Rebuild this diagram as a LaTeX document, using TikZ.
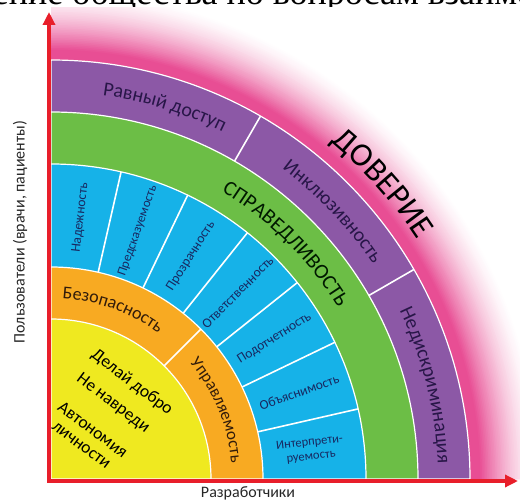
\documentclass[tikz,border=0pt]{standalone}
\usepackage{fontspec}
\setmainfont{Carlito}
\newfontfamily\pagefont{Liberation Serif}
\usetikzlibrary{arrows.meta,decorations.text}
\definecolor{ringyellow}{RGB}{239,233,32}
\definecolor{ringorange}{RGB}{248,170,34}
\definecolor{ringblue}{RGB}{22,178,232}
\definecolor{ringgreen}{RGB}{108,190,70}
\definecolor{ringpurple}{RGB}{140,88,166}
\definecolor{glowpink}{RGB}{232,78,148}
\definecolor{axisred}{RGB}{232,30,42}
\definecolor{bluetext}{RGB}{24,40,96}
\definecolor{purpletext}{RGB}{40,22,72}
\definecolor{orangetext}{RGB}{50,28,10}
\newcommand\bandfont{\fontsize{20}{24}\selectfont}
\newcommand\fairfont{\fontsize{21}{24}\selectfont}
\newcommand\trustfont{\fontsize{33}{36}\selectfont}
\newcommand\safefont{\fontsize{18}{20}\selectfont}
\newcommand\steerfont{\fontsize{17}{20}\selectfont}
\begin{document}
\begin{tikzpicture}[x=1pt,y=1pt,
    ring/.style={draw=white, line width=1.2pt},
    divider/.style={white, line width=1.6pt},
    axisline/.style={axisred, line width=3.6pt, line join=miter,
      {Triangle[length=13pt,width=12pt]}-{Triangle[length=13pt,width=12pt]}},
    bluelabel/.style={text=bluetext, font=\fontsize{13.5}{14}\selectfont, align=center, inner sep=0pt},
    yellowlabel/.style={text=black, font=\fontsize{17.5}{18}\selectfont, inner sep=0pt, rotate=-37},
    axislabel/.style={text=black!85, font=\fontsize{16}{18}\selectfont, inner sep=0pt}]
  \useasboundingbox (0,0) rectangle (520,499);
  \begin{scope}[shift={(51,20)}]
    % glow
    \begin{scope}
      \clip (0,0) rectangle (469,471);
      \foreach \i in {0,...,40} {
        \pgfmathsetmacro\rad{492-1.65*\i}
        \pgfmathtruncatemacro\pct{100*(min(1,(492-\rad)/62))^1.6}
        \fill[glowpink!\pct!white] (0,0) -- (0:\rad) arc[start angle=0, end angle=90, radius=\rad] -- cycle;
      }
    \end{scope}
    % rings
    \filldraw[ring, fill=ringpurple] (0,0) -- (0:419) arc[start angle=0, end angle=90, radius=419] -- cycle;
    \filldraw[ring, fill=ringgreen] (0,0) -- (0:367) arc[start angle=0, end angle=90, radius=367] -- cycle;
    \filldraw[ring, fill=ringblue] (0,0) -- (0:315) arc[start angle=0, end angle=90, radius=315] -- cycle;
    \filldraw[ring, fill=ringorange] (0,0) -- (0:212) arc[start angle=0, end angle=90, radius=212] -- cycle;
    \filldraw[ring, fill=ringyellow] (0,0) -- (0:160) arc[start angle=0, end angle=90, radius=160] -- cycle;
    \foreach \a in {30,60}
      \draw[divider] (\a:367) -- (\a:419);
    \foreach \k in {1,...,6}
      \draw[divider] ({\k*90/7}:212) -- ({\k*90/7}:315);
    \draw[divider] (45:160) -- (45:212);
    % curved labels
    \path[decorate, decoration={text along path, text align=center, text color=purpletext,
      text={|\bandfont|Равный доступ}}] (88:387) arc[start angle=88, end angle=58, radius=387];
    \path[decorate, decoration={text along path, text align=center, text color=purpletext,
      text={|\bandfont|Инклюзивность}}] (58.5:387) arc[start angle=58.5, end angle=28.5, radius=387];
    \path[decorate, decoration={text along path, text align=center, text color=purpletext,
      text={|\bandfont|Недискриминация}}] (29:387) arc[start angle=29, end angle=-1, radius=387];
    \path[decorate, decoration={text along path, text align=center, text color=black!90!green,
      text={|\fairfont|СПРАВЕДЛИВОСТЬ}}] (90:334) arc[start angle=90, end angle=0, radius=334];
    \path[decorate, decoration={text along path, text align=center, text color=black,
      text={|\trustfont|ДОВЕРИЕ}}] (66.7:438) arc[start angle=66.7, end angle=16.7, radius=438];
    \path[decorate, decoration={text along path, text align=center, text color=orangetext,
      text={|\safefont|Безопасность}}] (93:181) arc[start angle=93, end angle=47, radius=181];
    \path[decorate, decoration={text along path, text align=center, text color=orangetext,
      text={|\steerfont|Управляемость}}] (45:181) arc[start angle=45, end angle=0, radius=181];
    % blue sectors
    \node[bluelabel, rotate=83.57] (reliab) at (83.57:263) {Надежность};
    \node[bluelabel, rotate=70.71, font=\fontsize{13}{14}\selectfont] (predict) at (70.71:263) {Предсказуемость};
    \node[bluelabel, rotate=57.86] (transp) at (57.86:263) {Прозрачность};
    \node[bluelabel, rotate=45] (respons) at (45:264) {Ответственность};
    \node[bluelabel, rotate=32.14] (account) at (32.14:264) {Подотчетность};
    \node[bluelabel, rotate=19.29] (explain) at (19.29:263) {Объяснимость};
    \node[bluelabel, rotate=6.43, font=\fontsize{12.5}{14}\selectfont] (interp) at (6.43:261) {Интерпрети-\\руемость};
    % inner principles
    \node[yellowlabel] (dogood) at (81,96.5) {Делай добро};
    \node[yellowlabel] (noharm) at (62,75.5) {Не навреди};
    \node[yellowlabel] (autonomy) at (42,49.5) {Автономия};
    \node[yellowlabel] (person) at (30,33.5) {личности};
  \end{scope}
  % page text cut off above the figure
  \begin{scope}
    \clip (0,492) rectangle (520,499);
    \node[anchor=base west, font=\pagefont\fontsize{36}{36}\selectfont, inner sep=0pt] (pageline)
      at (-35,494) {щение общества по вопросам взаимо};
  \end{scope}
  % axes
  \coordinate (O) at (49,18);
  \coordinate (ytip) at (49,487);
  \coordinate (xtip) at (518,18);
  \draw[axisline] (ytip) -- (O) -- (xtip);
  \node[axislabel, rotate=90] (users) at (20,267) {Пользователи (врачи, пациенты)};
  \node[axislabel] (devs) at (248,6) {Разработчики};
\end{tikzpicture}
\end{document}
